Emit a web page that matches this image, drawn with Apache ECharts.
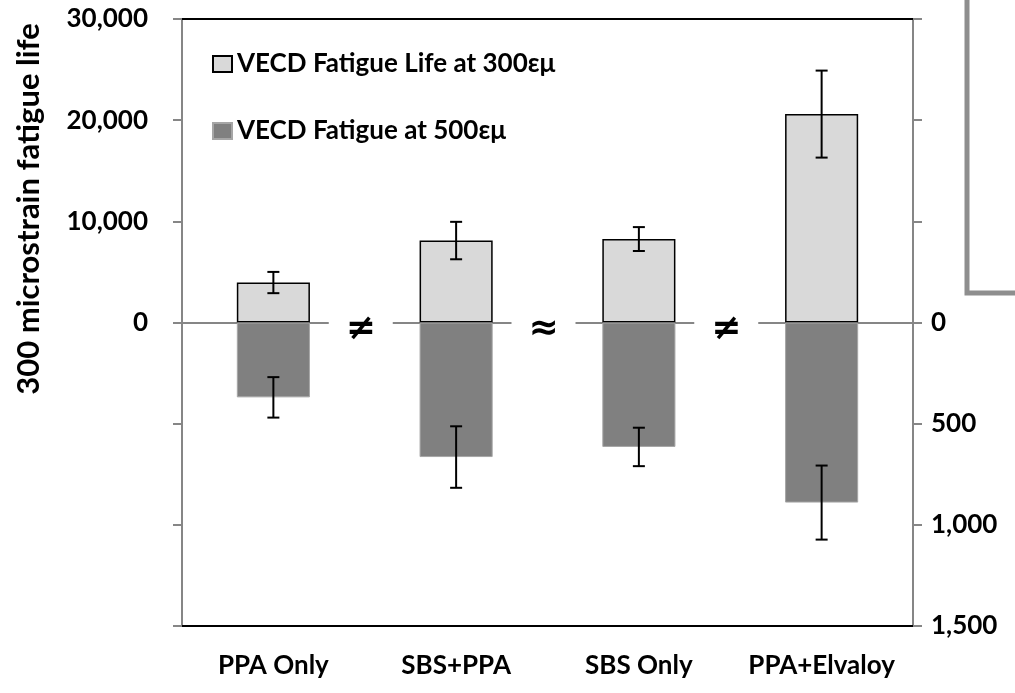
<!DOCTYPE html>
<html>
<head>
<meta charset="utf-8">
<script src="https://cdn.jsdelivr.net/npm/echarts@6/dist/echarts.min.js"></script>
<style>
  html, body { margin: 0; padding: 0; background: #fff; }
  #chart { width: 1015px; height: 693px; }
</style>
</head>
<body>
<div id="chart"></div>
<script>
// data
const categories = ['PPA Only', 'SBS+PPA', 'SBS Only', 'PPA+Elvaloy']
const life300 = [3950, 8100, 8250, 20600]
const life300Err = [1050, 1850, 1180, 4300]
const life500 = [370, 665, 615, 890]
const life500Err = [100, 152, 95, 183]
const compareMarks = ['≠', '≈', '≠']

const FONT = 'Lato, "Open Sans", sans-serif'
const AXIS_GREY = '#868686'

const fmt = v => v.toLocaleString('en-US')

// I-beam error bar
function errorBar(params, api) {
  const x = api.value(0)
  const top = api.coord([x, api.value(2)])
  const bot = api.coord([x, api.value(1)])
  const cap = 6
  const style = { stroke: '#000', lineWidth: 2 }
  return {
    type: 'group',
    children: [
      { type: 'line', shape: { x1: top[0], y1: top[1], x2: bot[0], y2: bot[1] }, style },
      { type: 'line', shape: { x1: top[0] - cap, y1: top[1], x2: top[0] + cap, y2: top[1] }, style },
      { type: 'line', shape: { x1: bot[0] - cap, y1: bot[1], x2: bot[0] + cap, y2: bot[1] }, style },
    ],
  }
}

const chart = echarts.init(document.getElementById('chart'))

const labelFont = { fontFamily: FONT, fontWeight: 'bold', fontSize: 26, color: '#000' }

const yAxisCommon = {
  type: 'value',
  splitLine: { show: false },
  axisLine: { show: true, lineStyle: { color: AXIS_GREY, width: 2 } },
  axisTick: { show: true, inside: false, length: 9, lineStyle: { color: AXIS_GREY, width: 2 } },
}

chart.setOption({
  animation: false,
  grid: { left: 182, right: 102, top: 19, bottom: 67 },
  legend: {
    orient: 'vertical',
    left: 207,
    top: 44,
    icon: 'rect',
    itemWidth: 19,
    itemHeight: 16,
    itemGap: 37,
    textStyle: { ...labelFont, lineHeight: 30 },
    data: ['VECD Fatigue Life at 300εμ', 'VECD Fatigue at 500εμ'],
  },
  xAxis: [
    {
      // bottom frame line + category labels
      type: 'category',
      data: categories,
      position: 'bottom',
      axisLine: { onZero: false, lineStyle: { color: '#000', width: 2 } },
      axisTick: { show: false },
      axisLabel: { interval: 0, margin: 27, ...labelFont },
    },
    {
      // top frame line
      type: 'category',
      data: categories,
      position: 'top',
      axisLine: { onZero: false, lineStyle: { color: '#000', width: 2 } },
      axisTick: { show: false },
      axisLabel: { show: false },
    },
    {
      // zero line
      type: 'category',
      data: categories,
      position: 'bottom',
      axisLine: { onZero: true, onZeroAxisIndex: 0, lineStyle: { color: AXIS_GREY, width: 2 } },
      axisTick: { show: false },
      axisLabel: { show: false },
    },
  ],
  yAxis: [
    {
      ...yAxisCommon,
      position: 'left',
      min: -30000,
      max: 30000,
      interval: 10000,
      axisLabel: {
        margin: 34,
        showMinLabel: true,
        showMaxLabel: true,
        ...labelFont,
        formatter: v => (v >= 0 ? fmt(v) : ''),
      },
    },
    {
      ...yAxisCommon,
      position: 'right',
      inverse: true,
      min: -1500,
      max: 1500,
      interval: 500,
      axisLabel: {
        margin: 18,
        showMinLabel: true,
        showMaxLabel: true,
        ...labelFont,
        formatter: v => (v >= 0 ? fmt(v) : ''),
      },
    },
  ],
  series: [
    {
      name: 'VECD Fatigue Life at 300εμ',
      type: 'bar',
      yAxisIndex: 0,
      barWidth: '40%',
      barGap: '-100%',
      itemStyle: { color: '#d9d9d9', borderColor: '#000', borderWidth: 1.5 },
      data: life300,
    },
    {
      name: 'VECD Fatigue at 500εμ',
      type: 'bar',
      yAxisIndex: 1,
      barWidth: '40%',
      barGap: '-100%',
      itemStyle: { color: '#808080', borderColor: '#a6a6a6', borderWidth: 1 },
      data: life500,
    },
    {
      type: 'custom',
      yAxisIndex: 0,
      z: 10,
      renderItem: errorBar,
      encode: { x: 0, y: [1, 2] },
      data: life300.map((v, i) => [i, v - life300Err[i], v + life300Err[i]]),
    },
    {
      type: 'custom',
      yAxisIndex: 1,
      z: 10,
      renderItem: errorBar,
      encode: { x: 0, y: [1, 2] },
      data: life500.map((v, i) => [i, v - life500Err[i], v + life500Err[i]]),
    },
  ],
})

// comparison symbols between neighbouring categories, sitting on the zero line
const y0 = chart.convertToPixel({ yAxisIndex: 0 }, 0)
const graphics = []
compareMarks.forEach((m, i) => {
  const xa = chart.convertToPixel({ xAxisIndex: 0 }, i)
  const xb = chart.convertToPixel({ xAxisIndex: 0 }, i + 1)
  const cx = (xa + xb) / 2 - 4
  graphics.push({
    type: 'rect',
    shape: { x: cx - 32, y: y0 - 4, width: 64, height: 8 },
    style: { fill: '#fff' },
    z: 20,
  })
  graphics.push({
    type: 'text',
    x: cx,
    y: y0 + 7,
    z: 21,
    style: {
      text: m,
      fill: '#000',
      font: 'bold 36px "DejaVu Sans", sans-serif',
      textAlign: 'center',
      textVerticalAlign: 'middle',
    },
  })
})

// y axis title
graphics.push({
  type: 'text',
  x: 29,
  y: 209,
  rotation: Math.PI / 2,
  style: {
    text: '300 microstrain fatigue life',
    fill: '#000',
    font: 'bold 31px ' + FONT,
    textAlign: 'center',
    textVerticalAlign: 'middle',
  },
})

// cropped frame from the neighbouring figure at the right edge
graphics.push({
  type: 'polyline',
  shape: { points: [[967, -5], [967, 293], [1025, 293]] },
  style: { stroke: '#8e8e8e', lineWidth: 5, fill: null },
})

chart.setOption({ graphic: graphics })
</script>
</body>
</html>
